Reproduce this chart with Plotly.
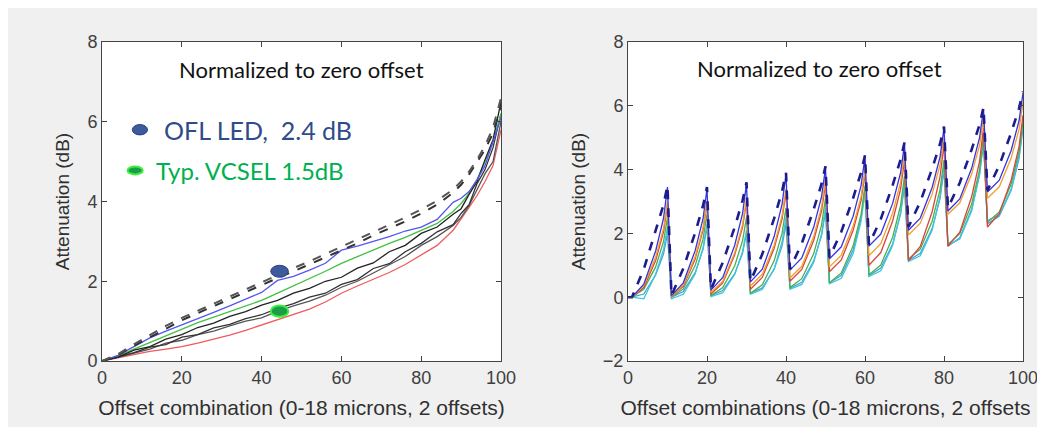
import plotly.graph_objects as go

# ---------------- Left panel data ----------------
LX = [0, 4, 8, 12, 16, 20, 24, 28, 32, 36, 40, 44, 48, 52, 56, 60, 64, 68, 72, 76, 80, 84, 88, 90, 92, 94, 96, 98, 100]
L_dash1 = [0, 0.15, 0.38, 0.6, 0.82, 1.02, 1.2, 1.38, 1.55, 1.72, 1.9, 2.08, 2.25, 2.42, 2.6, 2.78, 2.95, 3.15, 3.32, 3.5, 3.7, 3.92, 4.22, 4.42, 4.68, 4.98, 5.3, 5.72, 6.4]
L_dash2 = [0, 0.17, 0.42, 0.66, 0.88, 1.08, 1.26, 1.45, 1.62, 1.8, 1.98, 2.16, 2.33, 2.5, 2.68, 2.87, 3.05, 3.24, 3.42, 3.6, 3.8, 4.02, 4.3, 4.5, 4.75, 5.05, 5.4, 5.85, 6.6]
L_blue = [0, 0.14, 0.36, 0.58, 0.75, 0.9, 1.06, 1.22, 1.38, 1.55, 1.72, 2.02, 2.12, 2.28, 2.45, 2.78, 2.88, 3.0, 3.12, 3.26, 3.36, 3.55, 3.98, 4.08, 4.25, 4.55, 4.9, 5.5, 6.1]
L_green = [0, 0.12, 0.3, 0.47, 0.64, 0.8, 0.96, 1.1, 1.24, 1.38, 1.52, 1.7, 1.88, 2.05, 2.25, 2.45, 2.62, 2.78, 2.95, 3.1, 3.27, 3.45, 3.75, 3.95, 4.2, 4.55, 5.0, 5.5, 6.2]
L_blackA = [0, 0.1, 0.27, 0.36, 0.55, 0.66, 0.84, 0.95, 1.12, 1.24, 1.4, 1.52, 1.7, 1.82, 2.0, 2.1, 2.33, 2.46, 2.74, 2.9, 3.2, 3.36, 3.68, 3.82, 4.18, 4.5, 5.05, 5.55, 6.5]
L_blackB = [0, 0.1, 0.21, 0.35, 0.41, 0.6, 0.66, 0.83, 0.92, 1.06, 1.16, 1.32, 1.44, 1.6, 1.7, 1.92, 2.04, 2.32, 2.44, 2.74, 2.95, 3.24, 3.42, 3.7, 3.92, 4.45, 4.8, 5.35, 6.2]
L_blackC = [0, 0.09, 0.2, 0.3, 0.45, 0.52, 0.66, 0.75, 0.88, 1.0, 1.08, 1.25, 1.38, 1.5, 1.65, 1.85, 2.0, 2.2, 2.4, 2.62, 2.9, 3.12, 3.4, 3.6, 3.9, 4.3, 4.7, 5.0, 6.0]
L_red = [0, 0.08, 0.16, 0.24, 0.3, 0.36, 0.45, 0.55, 0.65, 0.77, 0.9, 1.03, 1.16, 1.3, 1.48, 1.7, 1.88, 2.05, 2.22, 2.42, 2.65, 2.9, 3.28, 3.55, 3.85, 4.15, 4.5, 4.9, 5.8]

# ellipse markers (x, y) on left panel
OFL_PT = (44.5, 2.25)
VCSEL_PT = (44.5, 1.25)
OFL_KEY = (9.5, 5.8)
VCSEL_KEY = (8.3, 4.78)

# ---------------- Right panel data ----------------
RX = [0,
      1, 4, 7, 9, 10,
      11, 14, 17, 19, 20,
      21, 24, 27, 29, 30,
      31, 34, 37, 39, 40,
      41, 44, 47, 49, 50,
      51, 54, 57, 59, 60,
      61, 64, 67, 69, 70,
      71, 74, 77, 79, 80,
      81, 84, 87, 89, 90,
      91, 94, 97, 99, 100]
R_dash = [0,
          0, 0.88, 2.05, 2.9, 3.5,
          0.05, 0.9, 2.02, 2.87, 3.45,
          0.25, 1.09, 2.19, 3.03, 3.6,
          0.5, 1.35, 2.47, 3.32, 3.9,
          0.88, 1.69, 2.75, 3.55, 4.1,
          1.25, 2.05, 3.11, 3.91, 4.45,
          1.65, 2.45, 3.51, 4.31, 4.85,
          2.2, 2.99, 4.03, 4.81, 5.35,
          2.8, 3.59, 4.63, 5.41, 5.95,
          3.35, 4.13, 5.15, 5.92, 6.45]
R_blue = [0,
          0, 0.41, 1.45, 2.48, 3.45,
          0.05, 0.45, 1.46, 2.46, 3.4,
          0.22, 0.62, 1.62, 2.62, 3.55,
          0.48, 0.88, 1.9, 2.91, 3.85,
          0.85, 1.23, 2.19, 3.15, 4.05,
          1.2, 1.58, 2.54, 3.5, 4.4,
          1.6, 1.98, 2.94, 3.9, 4.8,
          2.1, 2.48, 3.44, 4.4, 5.3,
          2.7, 3.08, 4.04, 5.0, 5.9,
          3.3, 3.67, 4.6, 5.53, 6.4]
R_orange = [0,
            0, 0.36, 1.26, 2.16, 3.0,
            0.02, 0.38, 1.27, 2.17, 3.0,
            0.15, 0.5, 1.39, 2.27, 3.1,
            0.35, 0.72, 1.63, 2.55, 3.4,
            0.6, 0.97, 1.9, 2.83, 3.7,
            0.95, 1.32, 2.23, 3.15, 4.0,
            1.3, 1.68, 2.64, 3.6, 4.5,
            1.95, 2.32, 3.23, 4.15, 5.0,
            2.6, 2.96, 3.86, 4.76, 5.6,
            3.1, 3.46, 4.36, 5.26, 6.1]
R_red = [0,
         0, 0.3, 1.15, 2.05, 2.9,
         0.02, 0.34, 1.2, 2.1, 2.95,
         0.1, 0.45, 1.32, 2.19, 3.0,
         0.25, 0.62, 1.53, 2.45, 3.3,
         0.5, 0.87, 1.78, 2.7, 3.55,
         0.8, 1.17, 2.1, 3.03, 3.9,
         1.0, 1.4, 2.39, 3.38, 4.3,
         1.15, 1.59, 2.68, 3.78, 4.8,
         1.6, 2.04, 3.15, 4.26, 5.3,
         2.2, 2.62, 3.67, 4.72, 5.7]
R_green = [0,
           0, 0.25, 0.95, 1.75, 2.5,
           0, 0.26, 0.99, 1.82, 2.6,
           0.05, 0.3, 0.98, 1.77, 2.5,
           0.12, 0.39, 1.14, 2.0, 2.8,
           0.3, 0.58, 1.36, 2.26, 3.1,
           0.45, 0.76, 1.61, 2.59, 3.5,
           0.7, 1.01, 1.88, 2.87, 3.8,
           1.2, 1.51, 2.38, 3.37, 4.3,
           1.65, 1.99, 2.92, 3.99, 5.0,
           2.35, 2.67, 3.55, 4.56, 5.5]
R_cyan = [0,
          0, -0.05, 0.73, 1.5, 2.2,
          -0.05, 0.09, 0.73, 1.55, 2.3,
          0.02, 0.14, 0.71, 1.43, 2.1,
          0.1, 0.24, 0.89, 1.73, 2.5,
          0.25, 0.4, 1.09, 1.98, 2.8,
          0.42, 0.59, 1.37, 2.38, 3.3,
          0.65, 0.83, 1.62, 2.66, 3.6,
          1.12, 1.3, 2.1, 3.15, 4.1,
          1.62, 1.82, 2.7, 3.85, 4.9,
          2.4, 2.58, 3.39, 4.44, 5.4]
R_steel = [0,
           0, 0.1, 0.7, 1.36, 2.0,
           0, 0.18, 0.77, 1.5, 2.2,
           0.05, 0.21, 0.73, 1.38, 2.0,
           0.12, 0.29, 0.88, 1.6, 2.3,
           0.28, 0.47, 1.13, 1.93, 2.7,
           0.45, 0.69, 1.48, 2.46, 3.4,
           0.68, 0.91, 1.67, 2.6, 3.5,
           1.15, 1.38, 2.15, 3.09, 4.0,
           1.6, 1.86, 2.76, 3.84, 4.9,
           2.3, 2.54, 3.35, 4.34, 5.3]

X_TICKS = [0, 20, 40, 60, 80, 100]
Y_TICKS_L = [0, 2, 4, 6, 8]
Y_TICKS_R = [-2, 0, 2, 4, 6, 8]

fig = go.Figure()

# Left traces
left_series = [
    (L_red, "#f05a5a", 1.3, "solid"),
    (L_blackC, "#555555", 1.3, "solid"),
    (L_blackB, "#333333", 1.3, "solid"),
    (L_green, "#40c040", 1.3, "solid"),
    (L_blackA, "#222222", 1.3, "solid"),
    (L_blue, "#5555ee", 1.3, "solid"),
    (L_dash1, "#333333", 2.0, "dash"),
    (L_dash2, "#555555", 2.0, "dash"),
]
for ys, col, w, dash in left_series:
    fig.add_trace(go.Scatter(x=LX, y=ys, mode="lines", line=dict(color=col, width=w, dash=dash),
                             xaxis="x", yaxis="y", showlegend=False, hoverinfo="skip"))

# Right traces
right_series = [
    (R_steel, "#4a9fdc", 1.3, "solid"),
    (R_cyan, "#3cc8d8", 1.3, "solid"),
    (R_green, "#4caf50", 1.3, "solid"),
    (R_red, "#d9453a", 1.3, "solid"),
    (R_orange, "#f0a030", 1.3, "solid"),
    (R_blue, "#3434e0", 1.3, "solid"),
    (R_dash, "#1c1c8c", 2.6, "dash"),
]
for ys, col, w, dash in right_series:
    fig.add_trace(go.Scatter(x=RX, y=ys, mode="lines", line=dict(color=col, width=w, dash=dash),
                             xaxis="x2", yaxis="y2", showlegend=False, hoverinfo="skip"))

def ellipse(pt, rx, ry, fill, line, lw, xr, yr):
    return dict(type="circle", xref=xr, yref=yr, x0=pt[0] - rx, x1=pt[0] + rx,
                y0=pt[1] - ry, y1=pt[1] + ry, fillcolor=fill, line=dict(color=line, width=lw), layer="above")

shapes = [
    ellipse(OFL_PT, 2.2, 0.15, "#3d5a9e", "#2a3f75", 1, "x", "y"),
    ellipse(VCSEL_PT, 2.2, 0.14, "#1a9c48", "#3cf03c", 2, "x", "y"),
    ellipse(OFL_KEY, 1.9, 0.13, "#3d5a9e", "#2a3f75", 1, "x", "y"),
    ellipse(VCSEL_KEY, 1.9, 0.1, "#1a9c48", "#3cf03c", 2, "x", "y"),
]

annotations = [
    dict(text="Normalized to zero offset", x=50, y=7.3, xref="x", yref="y", showarrow=False,
         font=dict(family="Lato", size=22, color="#111111")),
    dict(text="Normalized to zero offset", x=48.4, y=7.18, xref="x2", yref="y2", showarrow=False,
         font=dict(family="Lato", size=22, color="#111111")),
    dict(text="OFL LED,  2.4 dB", x=15, y=5.8, xref="x", yref="y", showarrow=False, xanchor="left",
         font=dict(family="Lato", size=25, color="#2f4c8a")),
    dict(text="Typ. VCSEL 1.5dB", x=13, y=4.78, xref="x", yref="y", showarrow=False, xanchor="left",
         font=dict(family="Lato", size=24, color="#00b050")),
]

FONT = "Arial, Liberation Sans, sans-serif"
axis_common = dict(showline=True, linecolor="#444444", linewidth=1, mirror="ticks", ticks="inside",
                   ticklen=5, tickcolor="#444444", showgrid=False, zeroline=False, automargin=False,
                   tickfont=dict(family=FONT, size=18, color="#404040"))
XT_FONT = dict(family=FONT, size=21, color="#303030")
YT_FONT = dict(family=FONT, size=19, color="#303030")

# page body adds an 8 px offset; figure is sized/positioned to compensate
W, H = 1037, 419
fig.update_layout(
    width=W, height=H,
    margin=dict(l=0, r=0, t=0, b=0),
    font=dict(family=FONT),
    paper_bgcolor="#f0f0f0", plot_bgcolor="#ffffff",
    xaxis=dict(domain=[94 / W, 493 / W], range=[0, 100], tickvals=X_TICKS, anchor="y",
               title=dict(text="Offset combination (0-18 microns, 2 offsets)", standoff=13, font=XT_FONT), **axis_common),
    yaxis=dict(domain=[66 / H, 385 / H], range=[0, 8], tickvals=Y_TICKS_L, anchor="x",
               title=dict(text="Attenuation (dB)", standoff=12, font=YT_FONT), **axis_common),
    xaxis2=dict(domain=[620 / W, 1015 / W], range=[0, 100], tickvals=X_TICKS, anchor="y2",
                title=dict(text="Offset combinations (0-18 microns, 2 offsets", standoff=13, font=XT_FONT), **axis_common),
    yaxis2=dict(domain=[66 / H, 385 / H], range=[-2, 8], tickvals=Y_TICKS_R, anchor="x2",
                title=dict(text="Attenuation (dB)", standoff=12, font=YT_FONT), **axis_common),
    shapes=shapes, annotations=annotations,
)

fig.write_html("out.html")
